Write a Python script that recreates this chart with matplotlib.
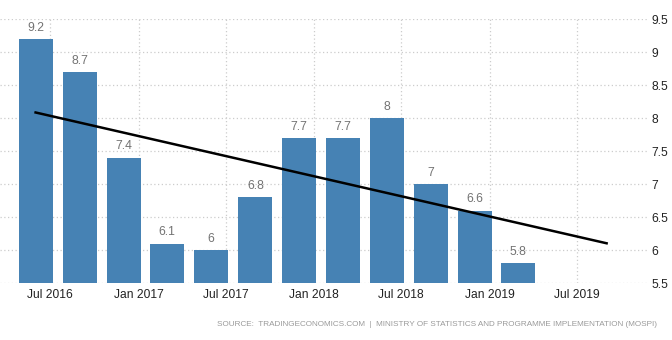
import matplotlib
matplotlib.use("Agg")
import matplotlib.pyplot as plt
import matplotlib.dates as mdates
import numpy as np
from datetime import datetime

# ── Data ─────────────────────────────────────────────────────────
quarters = ["2016-06-01", "2016-09-01", "2016-12-01", "2017-03-01",
            "2017-06-01", "2017-09-01", "2017-12-01", "2018-03-01",
            "2018-06-01", "2018-09-01", "2018-12-01", "2019-03-01"]
gdp_growth = [9.2, 8.7, 7.4, 6.1, 6.0, 6.8, 7.7, 7.7, 8.0, 7.0, 6.6, 5.8]
value_labels = ["9.2", "8.7", "7.4", "6.1", "6", "6.8", "7.7", "7.7", "8", "7", "6.6", "5.8"]
trend_end = "2019-09-01"

x_ticks = ["2016-07-01", "2017-01-01", "2017-07-01", "2018-01-01",
           "2018-07-01", "2019-01-01", "2019-07-01"]
x_ticklabels = ["Jul 2016", "Jan 2017", "Jul 2017", "Jan 2018",
                "Jul 2018", "Jan 2019", "Jul 2019"]
y_ticks = [5.5, 6, 6.5, 7, 7.5, 8, 8.5, 9, 9.5]
y_ticklabels = ["5.5", "6", "6.5", "7", "7.5", "8", "8.5", "9", "9.5"]

source = ("SOURCE:  TRADINGECONOMICS.COM  |  MINISTRY OF STATISTICS AND "
          "PROGRAMME IMPLEMENTATION (MOSPI)")

# ── Style ────────────────────────────────────────────────────────
BAR = "#4682B4"
LABEL_GREY = "#737373"
TICK = "#222222"
GRID = "#cccccc"
SOURCE_GREY = "#9a9a9a"

plt.rcParams["font.family"] = ["Liberation Sans", "DejaVu Sans"]


def to_num(strs):
    return mdates.date2num([datetime.strptime(s, "%Y-%m-%d") for s in strs])


x = to_num(quarters)
y = np.array(gdp_growth)

fig = plt.figure(figsize=(6.72, 3.40), dpi=100, facecolor="white")
ax = fig.add_axes([0.0, 0.1668, 648 / 672, 0.7764])
ax.set_facecolor("white")

ax.bar(x, y - 5.5, bottom=5.5, width=70.7, color=BAR, zorder=3, linewidth=0)

for xi, yi, lab in zip(x, y, value_labels):
    ax.annotate(lab, (xi, yi), xytext=(0, 4), textcoords="offset points",
                ha="center", va="bottom", color=LABEL_GREY, fontsize=8.8,
                zorder=4)

# linear trend through the series, carried two quarters ahead
slope, intercept = np.polyfit(x, y, 1)
tx = np.array([x[0], to_num([trend_end])[0]])
ax.plot(tx, slope * tx + intercept, color="black", linewidth=1.8, zorder=5)

ax.set_xlim(to_num(["2016-03-19"])[0], to_num(["2019-11-26"])[0])
ax.set_ylim(5.5, 9.5)

ax.set_xticks(to_num(x_ticks))
ax.set_xticklabels(x_ticklabels, color=TICK, fontsize=8.64)
ax.yaxis.tick_right()
ax.set_yticks(y_ticks)
ax.set_yticklabels(y_ticklabels, color=TICK, fontsize=8.64)
ax.tick_params(axis="x", length=0, pad=4)
ax.tick_params(axis="y", length=0, pad=2.5)

ax.grid(True, color=GRID, linestyle=(0, (1, 2)), linewidth=0.9, zorder=1)
for s in ax.spines.values():
    s.set_visible(False)

fig.text(657 / 672, 1 - 325 / 340, source, ha="right", va="center",
         color=SOURCE_GREY, fontsize=5.9)

fig.savefig("out.png", dpi=100, facecolor="white")
